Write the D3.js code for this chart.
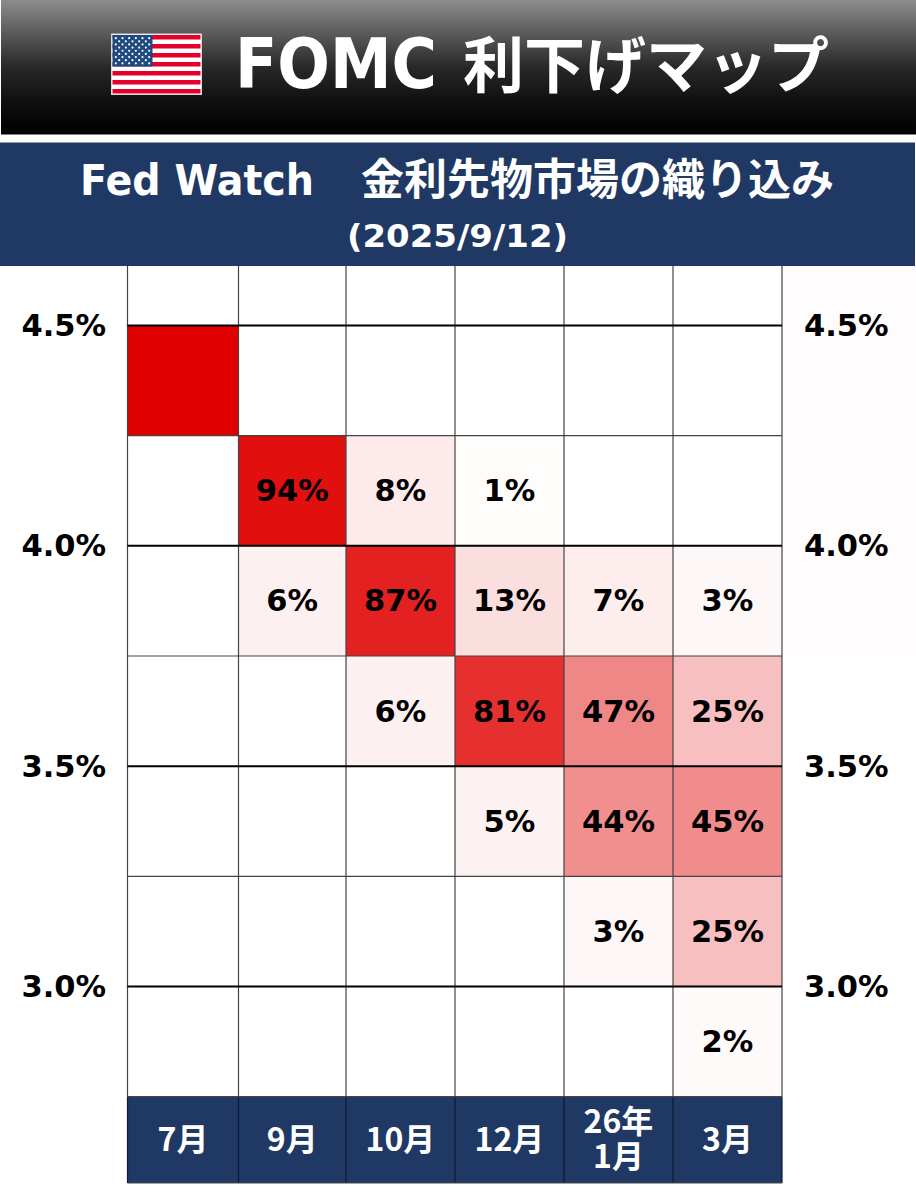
<!DOCTYPE html>
<html><head><meta charset="utf-8">
<script src="https://cdn.jsdelivr.net/npm/d3@7/dist/d3.min.js"></script>
<style>html,body{margin:0;padding:0;background:#fff}svg{display:block}
text{font-family:"DejaVu Sans","Noto Sans CJK JP",sans-serif;font-weight:700}
.cjk,.cjk tspan{font-family:"Noto Sans CJK JP",sans-serif}
.cjkspan{font-family:"Noto Sans CJK JP",sans-serif}</style>
</head><body><div id="c"></div>
<script>
const months = ["7月","9月","10月","12月","26年\n1月","3月"];
const rowFloors = [4.25,4.0,3.75,3.5,3.25,3.0,2.75];
const jul = [100,null,null,null,null,null,null];
const sep = [null,94,6,null,null,null,null];
const oct = [null,8,87,6,null,null,null];
const dec = [null,1,13,81,5,null,null];
const jan = [null,null,7,47,44,3,null];
const mar = [null,null,3,25,45,25,2];
const series = [jul,sep,oct,dec,jan,mar];
const rateTicks = [4.5,4.0,3.5,3.0];
const allRateLines = [4.25,3.75,3.25,2.75];
const titleA = "FOMC", titleB = "利下げマップ";
const subA = "Fed Watch", subB = "金利先物市場の織り込み", dateText = "(2025/9/12)";

const W=916,H=1200;
const svg=d3.select("#c").append("svg").attr("width",W).attr("height",H);
const defs=svg.append("defs");
const g=defs.append("linearGradient").attr("id","hd").attr("x1",0).attr("y1",0).attr("x2",0).attr("y2",1);
[[0,"#8c8c8c"],[.25,"#5a5a5a"],[.5,"#282828"],[.75,"#101010"],[1,"#000"]].forEach(s=>g.append("stop").attr("offset",s[0]).attr("stop-color",s[1]));

const x=d3.scaleLinear().domain([0,1,2,3,4,5,6]).range([127.5,238.5,346,455,564,673,782]);
const y=d3.scaleLinear().domain([4.5,3.0]).range([325.5,986.5]);
const color=d3.scaleLinear().domain([0,100]).range(["#ffffff","#e00000"]);
const gridTop=266, bottom=y(2.75), headBottom=1183;

// header
svg.append("rect").attr("x",1).attr("y",0).attr("width",W-1).attr("height",134.5).attr("fill","url(#hd)");
svg.append("rect").attr("x",0).attr("y",142.5).attr("width",W-1).attr("height",gridTop-142.5).attr("fill","#1f3864");
svg.append("rect").attr("x",782).attr("y",gridTop).attr("width",W-782).attr("height",656-gridTop).attr("fill","#fffcfd");

// flag
const fl=svg.append("g").attr("transform","translate(111.5,34)");
const fw=90,fh=60.5;
fl.append("rect").attr("width",fw).attr("height",fh).attr("fill","#fff").attr("stroke","#d8d8d8");
const st=d3.scaleBand().domain(d3.range(13)).range([1,fh-1]);
fl.selectAll(".s").data(d3.range(0,13,2)).join("rect").attr("x",1).attr("width",fw-2).attr("y",d=>st(d)).attr("height",st.bandwidth()).attr("fill","#e4002b");
const cw=40,ch=st(7);
fl.append("rect").attr("x",1).attr("y",1).attr("width",cw).attr("height",ch-1).attr("fill","#1f4a80");
const sd=[];for(let r=0;r<9;r++){const n=r%2?5:6;for(let c=0;c<n;c++)sd.push([r,c,n]);}
fl.selectAll(".st").data(sd).join("circle").attr("r",1.1).attr("fill","#fff")
 .attr("cx",d=>1+cw*((d[1]*2+(d[0]%2?2:1))/12)).attr("cy",d=>1+(ch-1)*((d[0]+1)/10));

// title
const t=svg.append("text").attr("y",88).attr("fill","#fff").attr("font-size",69);
t.append("tspan").attr("x",235).attr("textLength",202).attr("lengthAdjust","spacingAndGlyphs").text(titleA);
t.append("tspan").text(" ").attr("font-size",10);
t.append("tspan").attr("x",463).attr("font-size",61).attr("class","cjkspan").text(titleB);

const s=svg.append("text").attr("y",195).attr("fill","#fff").attr("font-size",42);
s.append("tspan").attr("x",80).attr("textLength",234).attr("lengthAdjust","spacingAndGlyphs").text(subA);
s.append("tspan").text(" ").attr("font-size",10);
s.append("tspan").attr("x",361).attr("class","cjkspan").attr("font-size",43).text(subB);
svg.append("text").attr("x",347).attr("y",247).attr("fill","#fff").attr("font-size",32).attr("textLength",221).attr("lengthAdjust","spacingAndGlyphs").text(dateText);

// cells
const cells=series.flatMap((col,i)=>col.map((v,j)=>({i,rate:rowFloors[j],v}))).filter(d=>d.v!==null);
svg.selectAll(".cell").data(cells).join("rect").attr("x",d=>x(d.i)).attr("width",d=>x(d.i+1)-x(d.i))
 .attr("y",d=>y(d.rate+.25)).attr("height",d=>y(d.rate)-y(d.rate+.25)).attr("fill",d=>color(d.v));
svg.selectAll(".lab").data(cells.filter(d=>d.v<100)).join("text")
 .attr("x",d=>(x(d.i)+x(d.i+1))/2).attr("y",d=>(y(d.rate)+y(d.rate+.25))/2).attr("dy",10.5)
 .attr("text-anchor","middle").attr("font-size",30.5).attr("fill","#000").text(d=>d.v+"%");

// month header
svg.append("rect").attr("x",x(0)).attr("y",bottom).attr("width",x(6)-x(0)).attr("height",headBottom-bottom).attr("fill","#1f3864");
months.forEach((m,i)=>{
  const ls=m.split("\n");
  const cx=(x(i)+x(i+1))/2, cy=(bottom+headBottom)/2;
  ls.forEach((l,k)=>svg.append("text").attr("class","cjk").attr("text-anchor","middle").attr("fill","#fff").attr("font-size",32)
    .attr("x",cx).attr("y",cy+11+(k-(ls.length-1)/2)*35).text(l));
});

// grid
d3.range(7).forEach(i=>{
  svg.append("line").attr("x1",x(i)).attr("x2",x(i)).attr("y1",gridTop).attr("y2",bottom).attr("stroke","#444").attr("stroke-width",1.2);
  svg.append("line").attr("x1",x(i)).attr("x2",x(i)).attr("y1",bottom).attr("y2",headBottom).attr("stroke","#0c1a33").attr("stroke-width",1.2);
});
allRateLines.forEach(r=>svg.append("line").attr("x1",x(0)).attr("x2",x(6)).attr("y1",y(r)).attr("y2",y(r)).attr("stroke","#444").attr("stroke-width",1.2));
svg.append("line").attr("x1",x(0)).attr("x2",x(6)).attr("y1",headBottom).attr("y2",headBottom).attr("stroke","#444").attr("stroke-width",1.2);
rateTicks.forEach(r=>svg.append("line").attr("x1",x(0)).attr("x2",x(6)).attr("y1",y(r)).attr("y2",y(r)).attr("stroke","#000").attr("stroke-width",2));

// axes
const fmt=d=>d3.format(".1f")(d)+"%";
const la=svg.append("g").attr("transform","translate(106,0)").call(d3.axisLeft(y).tickValues(rateTicks).tickSize(0).tickPadding(0).tickFormat(fmt));
const ra=svg.append("g").attr("transform","translate(804,0)").call(d3.axisRight(y).tickValues(rateTicks).tickSize(0).tickPadding(0).tickFormat(fmt));
[la,ra].forEach(a=>{a.attr("font-family",null).attr("font-size",null);a.select(".domain").remove();a.selectAll("text").attr("font-size",30.5).attr("fill","#000").attr("dy","0.33em");});
</script></body></html>
